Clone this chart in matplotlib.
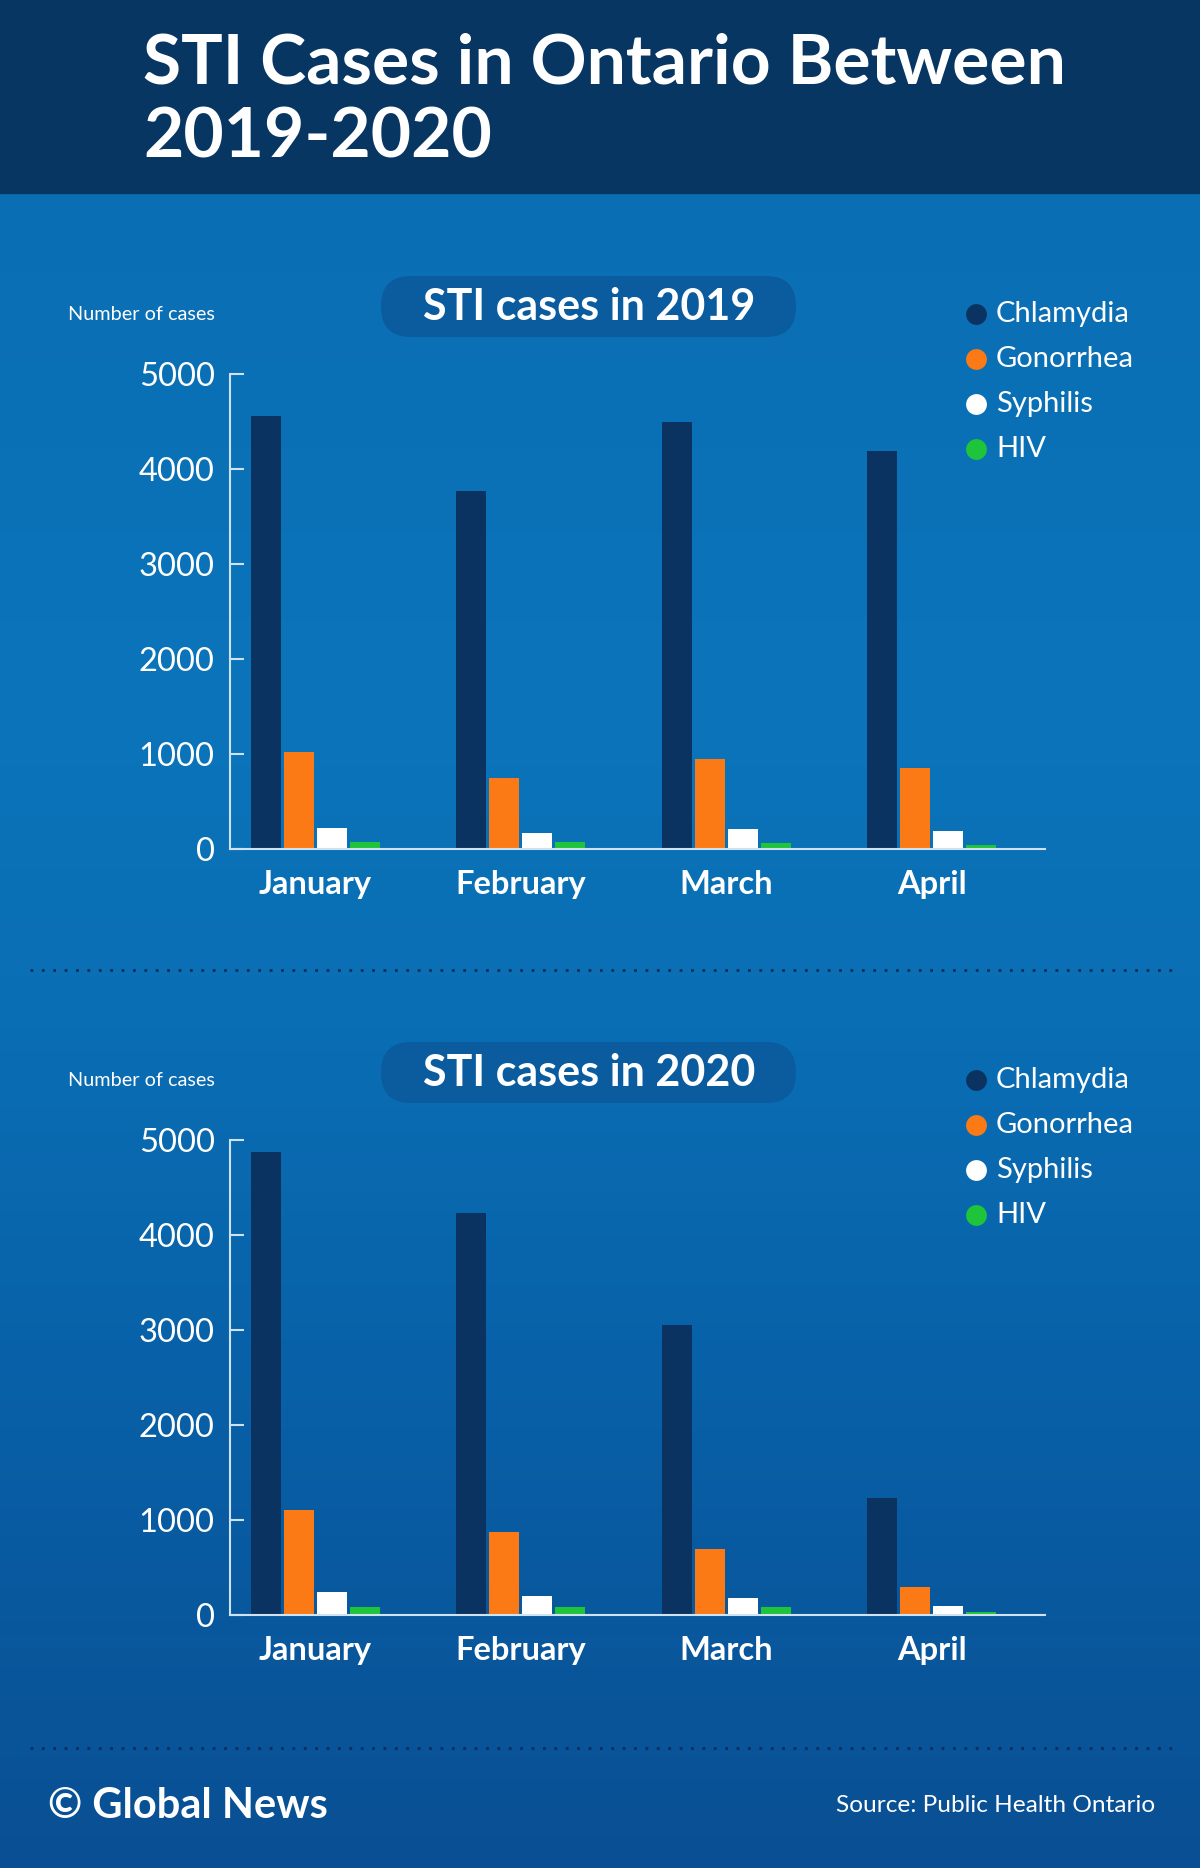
import matplotlib
matplotlib.use('Agg')
import matplotlib.pyplot as plt
import numpy as np
from matplotlib.patches import FancyBboxPatch, Rectangle
from matplotlib.colors import LinearSegmentedColormap

# data
months = ['January', 'February', 'March', 'April']
series = ['Chlamydia', 'Gonorrhea', 'Syphilis', 'HIV']
cases_2019 = {
    'Chlamydia': [4560, 3770, 4490, 4190],
    'Gonorrhea': [1020, 750, 950, 850],
    'Syphilis':  [220, 170, 210, 190],
    'HIV':       [75, 70, 63, 45],
}
cases_2020 = {
    'Chlamydia': [4870, 4230, 3050, 1230],
    'Gonorrhea': [1110, 870, 700, 290],
    'Syphilis':  [240, 200, 180, 95],
    'HIV':       [85, 85, 80, 35],
}
yticks = [0, 1000, 2000, 3000, 4000, 5000]

colors = ['#0b3361', '#fb7a15', '#ffffff', '#1ec43a']
axis_col = '#cfe2f2'
W, H = 1200, 1868

plt.rcParams['font.family'] = ['Lato', 'DejaVu Sans']

fig = plt.figure(figsize=(W / 100, H / 100), dpi=100)

# background layer in pixel coordinates
bg = fig.add_axes([0, 0, 1, 1])
bg.set_xlim(0, W)
bg.set_ylim(H, 0)
bg.axis('off')
grad = LinearSegmentedColormap.from_list('bg', [
    (0.0, '#0a6cb2'), (0.38, '#0b74ba'), (0.55, '#0a6eb4'),
    (0.75, '#0860a7'), (1.0, '#0a4f93')])
g = np.linspace(0, 1, 400).reshape(-1, 1)
bg.imshow(g, cmap=grad, extent=[0, W, H, 0], aspect='auto', zorder=0)
bg.add_patch(Rectangle((0, 0), W, 193, color='#073663', zorder=1))

bg.text(143, 83, 'STI Cases in Ontario Between', color='white', fontsize=50,
        fontweight='bold', va='baseline', ha='left', zorder=2)
bg.text(143, 157, '2019-2020', color='white', fontsize=50,
        fontweight='bold', va='baseline', ha='left', zorder=2)

# dotted separators
for yy in [970, 1748]:
    bg.plot([30, 1175], [yy, yy], color='#0a2e5c', lw=2,
            linestyle=(0, (1, 3.1)), zorder=2)

# footer
bg.text(48, 1806, '\u00a9 Global News', color='white', fontsize=30,
        fontweight='bold', va='center', ha='left')
bg.text(1155, 1806, 'Source: Public Health Ontario', color='white',
        fontsize=17.6, va='center', ha='right')


def panel(top, data, title):
    # pill title
    bg.add_patch(FancyBboxPatch((381, top - 98), 415, 61,
                 boxstyle='round,pad=0,rounding_size=30',
                 fc='#0a5c9f', ec='none', zorder=2))
    bg.text(589, top - 67, title, color='white', fontsize=31,
            fontweight='bold', ha='center', va='center', zorder=3)
    bg.text(68, top - 60, 'Number of cases', color='white', fontsize=14.3,
            ha='left', va='center')
    # legend
    for i, name in enumerate(series):
        yy = top - 60 + i * 45
        bg.plot(976, yy, 'o', ms=15, color=colors[i], mec='none', zorder=3)
        bg.text(996, yy, name, color='white', fontsize=21, ha='left',
                va='center', zorder=3)

    ax = fig.add_axes([230 / W, 1 - (top + 475) / H, 815 / W, 475 / H])
    ax.patch.set_alpha(0)
    x = np.arange(len(months))
    step, width = 0.1606, 0.146
    for i, name in enumerate(series):
        ax.bar(x + (i - 1.5) * step, data[name], width, color=colors[i],
               zorder=2)
    ax.set_xlim(-0.416, 3.55)
    ax.set_ylim(0, 5000)
    ax.set_yticks(yticks)
    ax.set_yticklabels([str(t) for t in yticks])
    ax.set_xticks(x)
    ax.set_xticklabels(months, fontweight='bold')
    for s in ['top', 'right']:
        ax.spines[s].set_visible(False)
    for s in ['left', 'bottom']:
        ax.spines[s].set_color(axis_col)
        ax.spines[s].set_linewidth(1.5)
    ax.tick_params(axis='y', direction='in', length=10, width=1.5,
                   color=axis_col, labelcolor='white', labelsize=23.5, pad=11)
    ax.tick_params(axis='x', length=0, labelcolor='white', labelsize=23.5,
                   pad=15)
    return ax


panel(374, cases_2019, 'STI cases in 2019')
panel(1140, cases_2020, 'STI cases in 2020')

fig.savefig('out.png', dpi=100)
